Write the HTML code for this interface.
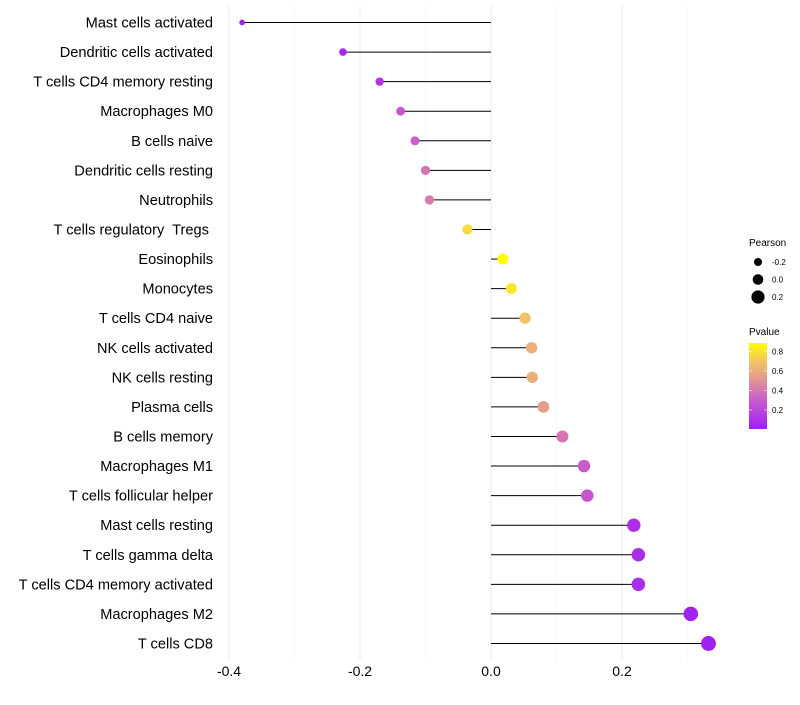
<!DOCTYPE html>
<html><head><meta charset="utf-8"><style>
body{margin:0;background:#fff;font-family:"Liberation Sans",sans-serif}
text{white-space:pre}
</style></head><body>
<svg id="c" width="800" height="700"></svg>
<script>
const categories=["Mast cells activated","Dendritic cells activated","T cells CD4 memory resting","Macrophages M0","B cells naive","Dendritic cells resting","Neutrophils","T cells regulatory  Tregs ","Eosinophils","Monocytes","T cells CD4 naive","NK cells activated","NK cells resting","Plasma cells","B cells memory","Macrophages M1","T cells follicular helper","Mast cells resting","T cells gamma delta","T cells CD4 memory activated","Macrophages M2","T cells CD8"];
const pearson=[-0.38,-0.226,-0.17,-0.138,-0.116,-0.1,-0.094,-0.036,0.018,0.031,0.052,0.062,0.063,0.08,0.109,0.142,0.147,0.218,0.225,0.225,0.305,0.332];
const pvalue=[0.0,0.03,0.12,0.28,0.32,0.4,0.42,0.78,0.9,0.82,0.7,0.62,0.62,0.55,0.4,0.3,0.28,0.08,0.07,0.07,0.01,0.005];
const xTicks=[-0.4,-0.2,0.0,0.2];
const xTickLabels=["-0.4","-0.2","0.0","0.2"];
const sizeLegend=[-0.2,0.0,0.2];
const colorLegend=[0.2,0.4,0.6,0.8];
const NS="http://www.w3.org/2000/svg";
const svg=document.getElementById('c');
function el(t,a){const e=document.createElementNS(NS,t);for(const k in a)e.setAttribute(k,a[k]);svg.appendChild(e);return e;}
const X=v=>491+v*655;
const Y=i=>22.5+i*29.57;
const R=v=>5.3+6.5*v;
const stops=[[0,[160,32,240]],[0.3,[200,90,205]],[0.5,[225,145,150]],[0.7,[240,195,105]],[0.9,[255,255,0]]];
function col(p){p=Math.max(0,Math.min(0.9,p));for(let i=1;i<stops.length;i++){if(p<=stops[i][0]){const a=stops[i-1],b=stops[i],t=(p-a[0])/(b[0]-a[0]);const c=a[1].map((v,j)=>Math.round(v+(b[1][j]-v)*t));return `rgb(${c})`;}}return 'rgb(255,255,0)';}
[-0.3,-0.1,0.1,0.3].forEach(v=>{const l=el('line',{x1:X(v),x2:X(v),y1:5,y2:660,stroke:'#f3f3f3','stroke-width':0.6});});
xTicks.forEach((v,i)=>{const l=el('line',{x1:X(v),x2:X(v),y1:5,y2:660,stroke:'#ebebeb','stroke-width':1});
const t=el('text',{x:X(v),y:676,'text-anchor':'middle','font-size':14,fill:'#000'});t.textContent=xTickLabels[i];});
categories.forEach((c,i)=>{const y=Y(i);
const t=el('text',{x:213,y:y+5,'text-anchor':'end','font-size':14.6,fill:'#000'});t.textContent=c;
const s=el('line',{x1:X(0),x2:X(pearson[i]),y1:y,y2:y,stroke:'#000','stroke-width':1});
const d=el('circle',{cx:X(pearson[i]),cy:y,r:R(pearson[i]),fill:col(pvalue[i])});
});
let t=el('text',{x:749,y:246,'font-size':10});t.textContent='Pearson';
sizeLegend.forEach((v,i)=>{const y=262+i*17.5;const c=el('circle',{cx:758,cy:y,r:R(v),fill:'#000'});
const l=el('text',{x:772,y:y+3,'font-size':8});l.textContent=v.toFixed(1);});
t=el('text',{x:749,y:335,'font-size':10});t.textContent='Pvalue';
const defs=el('defs',{});const lg=document.createElementNS(NS,'linearGradient');lg.setAttribute('id','g');lg.setAttribute('x1',0);lg.setAttribute('y1',1);lg.setAttribute('x2',0);lg.setAttribute('y2',0);defs.appendChild(lg);
for(let k=0;k<=10;k++){const p=0.9*k/10;const s=document.createElementNS(NS,'stop');s.setAttribute('offset',k/10);s.setAttribute('stop-color',col(p));lg.appendChild(s);}
const cb=el('rect',{x:749,y:343,width:18,height:86,fill:'url(#g)'});
const CY=p=>429.5-p*97.5;
colorLegend.forEach(p=>{const y=CY(p);el('line',{x1:749,x2:752,y1:y,y2:y,stroke:'#fff','stroke-width':0.6});el('line',{x1:764,x2:767,y1:y,y2:y,stroke:'#fff','stroke-width':0.6});
const l=el('text',{x:772,y:y+3,'font-size':8});l.textContent=p.toFixed(1);});
</script>
</body></html>
